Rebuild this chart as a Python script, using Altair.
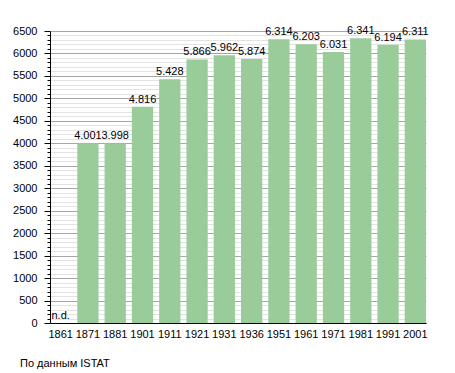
import altair as alt
import pandas as pd

years = ["1861", "1871", "1881", "1901", "1911", "1921", "1931", "1936",
         "1951", "1961", "1971", "1981", "1991", "2001"]
population = [None, 4001, 3998, 4816, 5428, 5866, 5962, 5874,
              6314, 6203, 6031, 6341, 6194, 6311]
missing_label = "n.d."
footer = "По данным ISTAT"
y_ticks = list(range(0, 6501, 100))

labels = [missing_label if v is None else f"{v:,}".replace(",", ".") for v in population]
df = pd.DataFrame({
    "year": years,
    "pop": [0 if v is None else v for v in population],
    "label": labels,
})

FONT = "Liberation Sans"
major = "datum.value % 500 === 0"

x = alt.X("year:N", sort=years,
          scale=alt.Scale(paddingInner=0.22, paddingOuter=0),
          axis=alt.Axis(title=None, labelAngle=0, ticks=False, domainColor="black",
                        labelFont=FONT, labelFontSize=11, labelColor="black",
                        labelPadding=5))
y = alt.Y("pop:Q", scale=alt.Scale(domain=[0, 6500], nice=False, zero=True),
          axis=alt.Axis(title=None, values=y_ticks, labelOverlap=False,
                        labelExpr=f"{major} ? datum.value : ''",
                        gridColor={"condition": {"test": major, "value": "#a6a6a6"}, "value": "#e3e3e3"},
                        tickSize={"condition": {"test": major, "value": 6}, "value": 3},
                        tickColor="black", domainColor="black",
                        labelFont=FONT, labelFontSize=11, labelColor="black",
                        labelPadding=7))

bars = alt.Chart(df).mark_bar(color="#99cc99").encode(x=x, y=y)
text = alt.Chart(df).mark_text(baseline="bottom", dy=-2, font=FONT, fontSize=11,
                               color="black").encode(x=x, y=y, text="label:N")

chart = (bars + text).properties(
    width=376, height=292,
    autosize=alt.AutoSizeParams(type="none"),
    padding={"left": 42, "top": 23, "right": 20, "bottom": 50},
    title=alt.TitleParams(footer, orient="bottom", anchor="start", frame="group",
                          font=FONT, fontSize=11, fontWeight="normal", color="black",
                          dx=-30, offset=19),
).configure_view(stroke=None)

chart.save("out.html", embed_options={"renderer": "svg", "actions": False})
